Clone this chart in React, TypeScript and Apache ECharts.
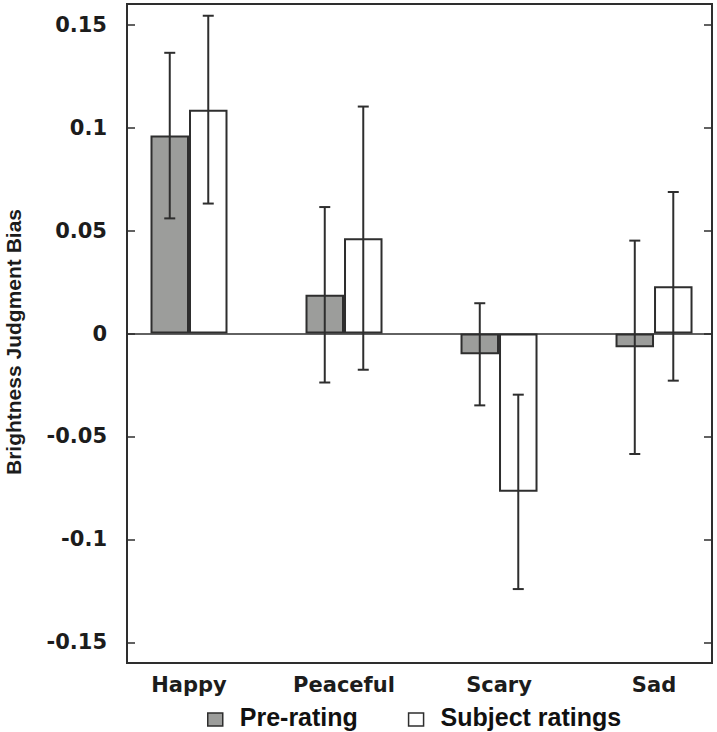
import React, { useEffect, useRef } from "react";
import * as echarts from "echarts";

const categories = ["Happy", "Peaceful", "Scary", "Sad"];
const preRating = [0.0961, 0.0188, -0.0101, -0.0067];
const preRatingErr = [0.0402, 0.0426, 0.0248, 0.0518];
const subjectRatings = [0.1087, 0.0463, -0.0769, 0.0229];
const subjectRatingsErr = [0.0456, 0.0639, 0.0472, 0.0458];
const yTicks = [-0.15, -0.1, -0.05, 0, 0.05, 0.1, 0.15];
const yTickLabels = ["-0.15", "-0.1", "-0.05", "0", "0.05", "0.1", "0.15"];
const seriesNames = ["Pre-rating", "Subject ratings"];
const yTitle = "Brightness Judgment Bias";

const BAR_W = 38.5;
const FONT = "DejaVu Sans";
const FONT2 = "Liberation Sans";
const INK = "#1c1c1c";
const LINE = "#2e2e2e";

export default function App() {
  const ref = useRef<HTMLDivElement>(null);
  useEffect(() => {
    const chart = echarts.init(ref.current!, null, { renderer: "svg" });
    const errData = (vals: number[], errs: number[]) =>
      vals.map((v, i) => [i, v - errs[i], v + errs[i]]);
    const makeErr = (name: string, vals: number[], errs: number[], side: number) => ({
      type: "custom",
      name: name + "-err",
      silent: true,
      z: 5,
      data: errData(vals, errs),
      renderItem: (params: any, api: any) => {
        const x = api.value(0);
        const lo = api.coord([x, api.value(1)]);
        const hi = api.coord([x, api.value(2)]);
        const px = lo[0] + side * BAR_W / 2;
        const cap = 5.5;
        const style = { stroke: LINE, lineWidth: 2 };
        return {
          type: "group",
          children: [
            { type: "line", shape: { x1: px, y1: lo[1], x2: px, y2: hi[1] }, style },
            { type: "line", shape: { x1: px - cap, y1: lo[1], x2: px + cap, y2: lo[1] }, style },
            { type: "line", shape: { x1: px - cap, y1: hi[1], x2: px + cap, y2: hi[1] }, style },
          ],
        };
      },
    });

    const option: any = {
      animation: false,
      backgroundColor: "#ffffff",
      grid: {
        left: 127,
        right: 5,
        top: 4,
        bottom: 69,
        show: true,
        borderColor: LINE,
        borderWidth: 2,
        backgroundColor: "transparent",
      },
      legend: {
        left: 207,
        top: 704,
        padding: 0,
        itemWidth: 15,
        itemHeight: 19,
        itemGap: 50,
        icon: "path://M0,0M0,6H15V19H0Z",
        data: seriesNames,
        textStyle: {
          fontFamily: FONT2,
          fontWeight: 700,
          fontSize: 25,
          color: "#111111",
          padding: [0, 0, 0, 12],
        },
        itemStyle: { borderColor: LINE, borderWidth: 1.5 },
      },
      xAxis: {
        type: "value",
        min: -0.4,
        max: 3.374,
        splitLine: { show: false },
        axisLine: { show: false, onZero: false },
        axisTick: { show: false },
        axisLabel: {
          customValues: [0, 1, 2, 3],
          formatter: (v: number) => categories[Math.round(v)] ?? "",
          fontFamily: FONT,
          fontWeight: "bold",
          fontSize: 21,
          color: INK,
          margin: 11,
        },
      },
      yAxis: [
        {
          type: "value",
          min: -0.16,
          max: 0.16,
          splitLine: { show: false },
          axisLine: { show: true, onZero: false, lineStyle: { color: LINE, width: 2 } },
          axisTick: { show: true, inside: true, length: 8, customValues: yTicks, lineStyle: { color: LINE, width: 1.5 } },
          axisLabel: {
            customValues: yTicks,
            formatter: (v: number) => {
              const i = yTicks.findIndex((t) => Math.abs(t - v) < 1e-9);
              return i >= 0 ? yTickLabels[i] : "";
            },
            fontFamily: FONT,
            fontWeight: "bold",
            fontSize: 21,
            color: INK,
            margin: 20,
          },
        },
        {
          type: "value",
          position: "right",
          min: -0.16,
          max: 0.16,
          splitLine: { show: false },
          axisLine: { show: true, onZero: false, lineStyle: { color: LINE, width: 2 } },
          axisTick: { show: true, inside: true, length: 8, customValues: yTicks, lineStyle: { color: LINE, width: 1.5 } },
          axisLabel: { show: false },
        },
      ],
      graphic: [
        {
          type: "text",
          x: 13,
          y: 342,
          rotation: Math.PI / 2,
          style: {
            text: yTitle,
            font: `bold 21px "${FONT2}"`,
            fill: INK,
            align: "center",
            verticalAlign: "middle",
          },
        },
      ],
      series: [
        {
          type: "bar",
          name: seriesNames[0],
          data: preRating.map((v, i) => [i, v]),
          barWidth: BAR_W,
          barGap: "0%",
          itemStyle: { color: "#9c9d9b", borderColor: LINE, borderWidth: 2 },
          markLine: {
            silent: true,
            symbol: "none",
            label: { show: false },
            lineStyle: { color: LINE, width: 1.5, type: "solid" },
            data: [{ yAxis: 0 }],
          },
        },
        {
          type: "bar",
          name: seriesNames[1],
          data: subjectRatings.map((v, i) => [i, v]),
          barWidth: BAR_W,
          barGap: "0%",
          itemStyle: { color: "#ffffff", borderColor: LINE, borderWidth: 2 },
        },
        makeErr(seriesNames[0], preRating, preRatingErr, -1),
        makeErr(seriesNames[1], subjectRatings, subjectRatingsErr, 1),
      ],
    };
    chart.setOption(option);
    return () => chart.dispose();
  }, []);
  return (
    <div
      ref={ref}
      style={{ position: "fixed", left: 0, top: 0, width: 717, height: 732, background: "#fff" }}
    />
  );
}
